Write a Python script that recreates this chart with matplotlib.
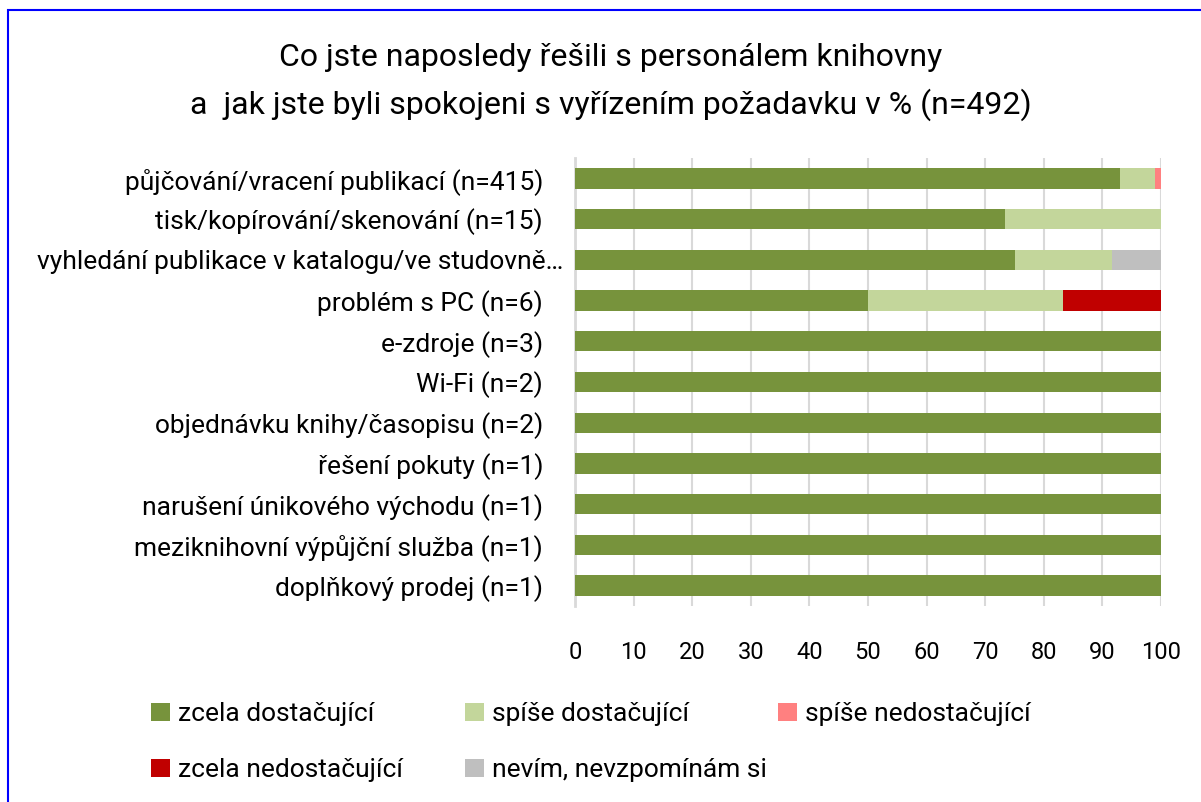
import numpy as np
import matplotlib.pyplot as plt
from matplotlib.patches import Rectangle
from matplotlib.transforms import ScaledTranslation

plt.rcParams['font.family'] = ['Roboto', 'DejaVu Sans']

# kategorie (shora dolu)
kategorie = [
    "půjčování/vracení publikací (n=415)",
    "tisk/kopírování/skenování (n=15)",
    "vyhledání publikace v katalogu/ve studovně…",
    "problém s PC (n=6)",
    "e-zdroje (n=3)",
    "Wi-Fi (n=2)",
    "objednávku knihy/časopisu (n=2)",
    "řešení pokuty (n=1)",
    "narušení únikového východu (n=1)",
    "meziknihovní výpůjční služba (n=1)",
    "doplňkový prodej (n=1)",
]

zcela_dost = [93.0, 73.3, 75.0, 50.0, 100, 100, 100, 100, 100, 100, 100]
spise_dost = [6.0, 26.7, 16.7, 33.3, 0, 0, 0, 0, 0, 0, 0]
spise_nedost = [1.0, 0, 0, 0, 0, 0, 0, 0, 0, 0, 0]
zcela_nedost = [0, 0, 0, 16.7, 0, 0, 0, 0, 0, 0, 0]
nevim = [0, 0, 8.3, 0, 0, 0, 0, 0, 0, 0, 0]

serie = [
    ("zcela dostačující", zcela_dost, "#77933C"),
    ("spíše dostačující", spise_dost, "#C3D69B"),
    ("spíše nedostačující", spise_nedost, "#FF8080"),
    ("zcela nedostačující", zcela_nedost, "#C00000"),
    ("nevím, nevzpomínám si", nevim, "#BFBFBF"),
]

W, H = 1201, 802
fig = plt.figure(figsize=(W / 100, H / 100), dpi=100)
ax = fig.add_axes([575 / W, 1 - 606 / H, (1161 - 575) / W, (606 - 158) / H])

y = np.arange(len(kategorie))
left = np.zeros(len(kategorie))
handles = []
for nazev, hodnoty, barva in serie:
    h = ax.barh(y, hodnoty, left=left, height=0.5, color=barva, label=nazev, zorder=3)
    handles.append(h)
    left += np.array(hodnoty)

ax.set_yticks(y)
ax.set_yticklabels(kategorie, fontsize=19)
ax.set_ylim(len(kategorie) - 0.5, -0.5)
ax.set_xlim(0, 100)
ax.set_xticks(np.arange(0, 101, 10))
ax.tick_params(axis='x', labelsize=17, length=0, pad=25)
ax.tick_params(axis='y', length=0, pad=23)
ax.grid(axis='x', color='#D9D9D9', linewidth=1.5, zorder=0)
for s in ['top', 'right', 'bottom']:
    ax.spines[s].set_visible(False)
ax.spines['left'].set_color('#D9D9D9')
ax.spines['left'].set_linewidth(2)

# zkraceny popisek je v originale posunuty doprava
lbl = ax.get_yticklabels()[2]
lbl.set_transform(lbl.get_transform() + ScaledTranslation(0.2, 0, fig.dpi_scale_trans))

fig.text(611 / W, 1 - 57 / H, "Co jste naposledy řešili s personálem knihovny",
         ha='center', va='center', fontsize=23)
fig.text(611 / W, 1 - 105 / H, "a  jak jste byli spokojeni s vyřízením požadavku v % (n=492)",
         ha='center', va='center', fontsize=23)

# legenda ve trech sloupcich s pevnou sirkou
sloupce = [[0, 3], [1, 4], [2]]
x_sloupcu = [151, 465, 778]
for idx, xs in zip(sloupce, x_sloupcu):
    fig.legend([handles[i] for i in idx], [serie[i][0] for i in idx],
               loc='upper left', bbox_to_anchor=(xs / W, 1 - 702 / H),
               frameon=False, fontsize=19, handlelength=0.72, handleheight=0.68,
               handletextpad=0.3, labelspacing=1.22, borderpad=0, borderaxespad=0)

# modry ramecek
fig.patches.append(Rectangle((8 / W, -0.1), 1.2, 1 - 10 / H + 0.1,
                             transform=fig.transFigure, fill=False,
                             edgecolor='#0000FF', linewidth=1.5))

fig.savefig('out.png', dpi=100, facecolor='white')
